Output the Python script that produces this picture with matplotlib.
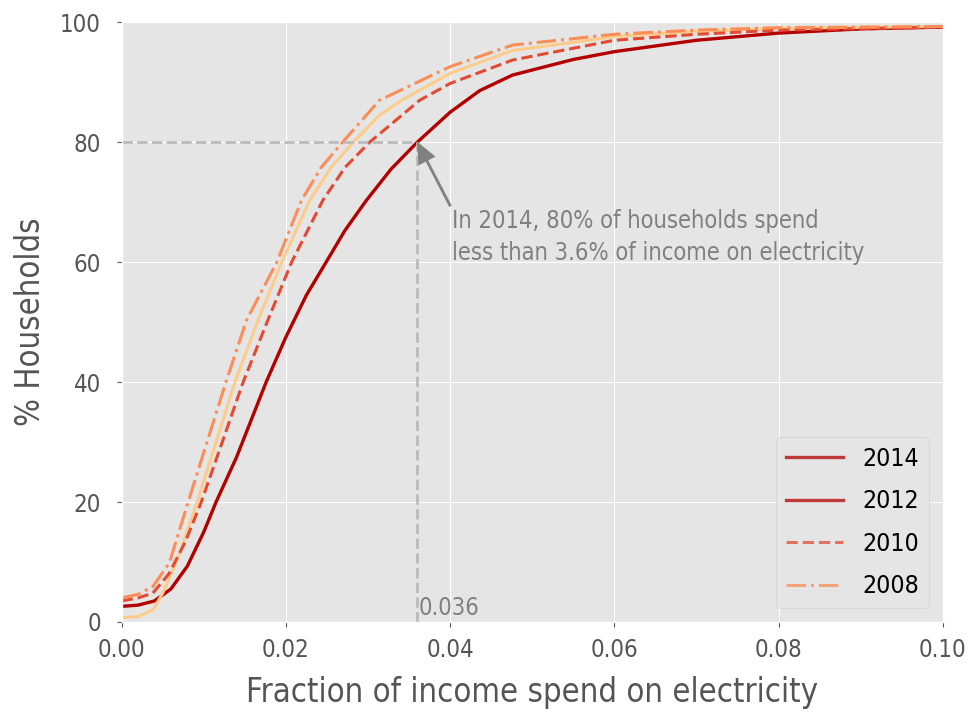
import numpy as np
import matplotlib.pyplot as plt
from matplotlib import font_manager
from matplotlib.lines import Line2D

plt.style.use('ggplot')
plt.rcParams['font.family'] = ['DejaVu Sans']

# the reference text is a narrow DejaVu; use the condensed face when present
cond = font_manager.FontProperties(family='DejaVu Sans', stretch='condensed')
if 'ondensed' in font_manager.findfont(cond):
    plt.rcParams['font.stretch'] = 'condensed'
    k = 1.0
else:
    k = 0.9

# CDF curves (fraction of income, % households)
x_2014 = [0.000, 0.002, 0.004, 0.006, 0.008, 0.010, 0.0115, 0.014, 0.0176, 0.020,
          0.0225, 0.0249, 0.0272, 0.0298, 0.0328, 0.036, 0.040, 0.0436, 0.0476,
          0.055, 0.060, 0.070, 0.080, 0.090, 0.100]
y_2014 = [2.6, 2.8, 3.5, 5.5, 9.3, 15.0, 20.0, 27.5, 40.0, 47.5,
          54.5, 60.0, 65.3, 70.3, 75.5, 80.0, 85.0, 88.6, 91.2,
          93.8, 95.1, 97.0, 98.2, 98.9, 99.2]

x_2012 = [0.000, 0.002, 0.0038, 0.005, 0.0071, 0.0092, 0.0115, 0.0138, 0.0166, 0.0195,
          0.0229, 0.0255, 0.0282, 0.0314, 0.0341, 0.040, 0.0476, 0.060, 0.070, 0.080, 0.100]
y_2012 = [0.7, 0.9, 2.0, 4.8, 11.5, 20.0, 30.0, 40.0, 50.3, 60.0,
          70.3, 75.8, 80.0, 84.5, 87.0, 91.5, 95.3, 97.6, 98.5, 99.0, 99.3]

x_2010 = [0.000, 0.002, 0.0038, 0.0058, 0.0078, 0.0097, 0.012, 0.0148, 0.0178, 0.0207,
          0.0245, 0.0272, 0.0302, 0.0363, 0.040, 0.0476, 0.060, 0.070, 0.080, 0.100]
y_2010 = [3.5, 4.0, 4.8, 8.1, 13.5, 20.0, 29.0, 40.0, 50.3, 60.0,
          70.3, 75.8, 80.0, 87.0, 89.8, 93.7, 97.0, 98.0, 98.7, 99.2]

x_2008 = [0.000, 0.002, 0.0038, 0.0058, 0.0081, 0.0104, 0.0127, 0.0152, 0.0189, 0.0219,
          0.0243, 0.0269, 0.0314, 0.040, 0.0476, 0.060, 0.070, 0.080, 0.100]
y_2008 = [4.0, 4.6, 5.9, 9.8, 20.0, 30.0, 40.0, 50.3, 60.0, 70.3,
          75.8, 80.0, 87.0, 92.6, 96.2, 98.0, 98.7, 99.1, 99.3]

years = ['2014', '2012', '2010', '2008']
x_mark = 0.036
y_mark = 80

fig = plt.figure(figsize=(9.73, 7.19), dpi=100)
ax = fig.add_axes([0.125, 0.135, 0.844, 0.834])

ax.plot(x_2014, y_2014, color='#b30000', lw=2.4)
ax.plot(x_2012, y_2012, color='#fdcc8a', lw=2.2)
ax.plot(x_2010, y_2010, color='#e34a33', lw=2.2, linestyle='--')
ax.plot(x_2008, y_2008, color='#fc8d59', lw=2.2, linestyle='-.')

# reference lines to the 80% point
ax.plot([0, x_mark], [y_mark, y_mark], color='#bbbbbb', lw=2, linestyle='--')
ax.plot([x_mark, x_mark], [0, y_mark], color='#bbbbbb', lw=2, linestyle='--')
ax.text(x_mark + 0.0002, 0.3, '0.036', color='#808080', fontsize=17 * k, va='bottom')

ax.annotate('In 2014, 80% of households spend\nless than 3.6% of income on electricity',
            xy=(x_mark, y_mark), xytext=(0.0402, 60.3), color='#808080', fontsize=17 * k,
            linespacing=1.45,
            arrowprops=dict(facecolor='#808080', edgecolor='#808080', width=1.5,
                            headwidth=13, headlength=15, shrink=0.0))

handles = [Line2D([], [], color='#b30000', lw=2.4, alpha=0.75),
           Line2D([], [], color='#b30000', lw=2.4, alpha=0.75),
           Line2D([], [], color='#e34a33', lw=2.2, alpha=0.75, linestyle='--'),
           Line2D([], [], color='#fc8d59', lw=2.2, alpha=0.75, linestyle='-.')]
ax.legend(handles, years, loc='lower right', fontsize=17.8 * k, handlelength=2.3,
          labelspacing=0.75, borderaxespad=0.55)

ax.set_xlim(0, 0.1)
ax.set_ylim(0, 100)
ax.set_xticks([0, 0.02, 0.04, 0.06, 0.08, 0.10])
ax.set_xticklabels(['0.00', '0.02', '0.04', '0.06', '0.08', '0.10'])
ax.tick_params(labelsize=17.2 * k, colors='#555555')
ax.tick_params(axis='x', pad=8)
ax.tick_params(axis='y', pad=11.5)
ax.set_xlabel('Fraction of income spend on electricity', fontsize=23.6 * k,
              color='#555555', labelpad=10)
ax.set_ylabel('% Households', fontsize=23.6 * k, color='#555555', labelpad=9)

fig.savefig('out.png', dpi=100)
